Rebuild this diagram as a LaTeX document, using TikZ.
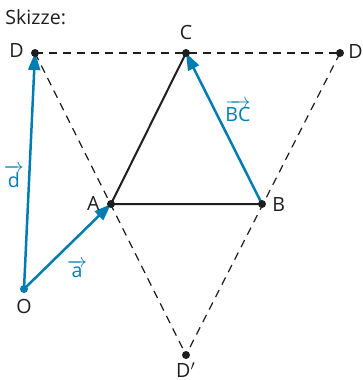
\documentclass[tikz,border=0pt]{standalone}
\usepackage{amsmath}
\usepackage{fontspec}
\setmainfont{Open Sans}
\usepackage{tikz}
\usetikzlibrary{arrows.meta}
\definecolor{vecc}{RGB}{0,124,180}
\definecolor{inkc}{RGB}{30,30,30}

\begin{document}
\begin{tikzpicture}[x=0.5pt,y=-0.5pt,
    every node/.style={font=\fontsize{9.8}{11}\selectfont, text=inkc, inner sep=1pt},
    vec/.style={draw=vecc, line width=1.25pt, -{Triangle[length=8.5pt,width=6pt]}},
    side/.style={draw=inkc, line width=1pt},
    aux/.style={draw=inkc, line width=0.6pt, dash pattern=on 4pt off 3pt},
    dot/.style={circle, fill=inkc, inner sep=0, minimum size=4pt},
    veclabel/.style={text=vecc}]
  \useasboundingbox (0,0) rectangle (363,380);
  \node[anchor=base west] (title) at (3,25) {Skizze:};
  % points
  \coordinate (D) at (35,53);
  \coordinate (C) at (186,53);
  \coordinate (Dr) at (340,53);
  \coordinate (A) at (111,204);
  \coordinate (B) at (262,204);
  \coordinate (O) at (24,289);
  \coordinate (Db) at (186,355);
  % big triangle
  \draw[aux] (D) -- (Dr);
  \draw[aux] (D) -- (Db);
  \draw[aux] (Dr) -- (Db);
  % triangle ABC
  \draw[side] (C) -- (A) -- (B);
  % vectors
  \draw[vec] (O) -- (D);
  \draw[vec] (O) -- (A);
  \draw[vec] (B) -- (C);
  % dots
  \foreach \p in {D,C,Dr,A,B,Db} { \node[dot] at (\p) {}; }
  \node[dot, fill=vecc] at (O) {};
  % labels
  \node[anchor=east] (lD) at (26,51) {D};
  \node[anchor=south] (lC) at (186,42) {C};
  \node[anchor=west] (lDr) at (346,51) {D$'$};
  \node[anchor=east] (lA) at (102,203) {A};
  \node[anchor=west] (lB) at (270,205) {B};
  \node[anchor=north] (lO) at (24,297) {O};
  \node[anchor=north] (lDb) at (186,360) {D$'$};
  \node[veclabel] (ld) at (14,176) {$\overrightarrow{\mbox{d}}$};
  \node[veclabel] (la) at (77,269) {$\overrightarrow{\mbox{a}}$};
  \node[veclabel] (lBC) at (238,111) {$\overrightarrow{\mbox{BC}}$};
\end{tikzpicture}
\end{document}
